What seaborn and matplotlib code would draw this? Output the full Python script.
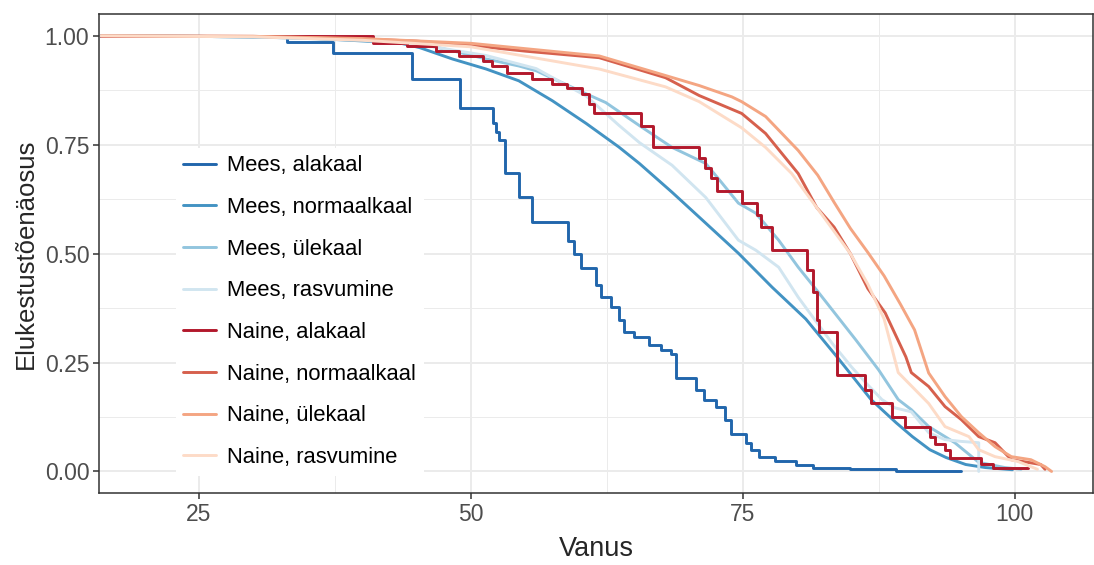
import matplotlib
matplotlib.use("Agg")
import matplotlib.pyplot as plt
import seaborn as sns
from matplotlib.ticker import MultipleLocator, FormatStrFormatter

# Survival curves (age, survival probability)
groups = ["Mees, alakaal", "Mees, normaalkaal", "Mees, ülekaal", "Mees, rasvumine",
          "Naine, alakaal", "Naine, normaalkaal", "Naine, ülekaal", "Naine, rasvumine"]
colors = ["#2166AC", "#4393C3", "#92C5DE", "#D1E5F0",
          "#B2182B", "#D6604D", "#F4A582", "#FDDBC7"]

# small groups -> visible steps
mees_alakaal_vanus = [16, 33.1, 37.3, 44.6, 49.0, 52.0, 52.3, 52.6, 53.1, 54.4, 55.6, 58.9,
                      59.5, 60.1, 61.5, 62.0, 62.9, 63.6, 64.1, 65.0, 66.4, 67.5, 68.4, 68.9,
                      70.7, 71.4, 72.5, 73.4, 73.9, 75.3, 75.8, 76.5, 78.0, 79.9, 81.5, 84.9,
                      89.1, 95.1]
mees_alakaal_s = [1.0, 0.985, 0.961, 0.902, 0.835, 0.80, 0.78, 0.76, 0.686, 0.629, 0.572, 0.53,
                  0.50, 0.467, 0.428, 0.40, 0.378, 0.348, 0.32, 0.309, 0.291, 0.28, 0.27, 0.215,
                  0.188, 0.165, 0.149, 0.119, 0.085, 0.065, 0.050, 0.034, 0.023, 0.014, 0.009, 0.005,
                  0.002, 0.002]

naine_alakaal_vanus = [16, 41.0, 44.1, 46.8, 48.9, 51.1, 51.9, 53.3, 55.6, 57.5, 58.8, 60.2,
                       60.9, 61.3, 65.6, 66.7, 71.0, 71.5, 72.1, 72.6, 74.9, 76.3, 76.7, 77.7,
                       80.9, 81.5, 81.8, 82.0, 83.7, 86.2, 86.8, 88.7, 89.9, 92.2, 92.7, 93.6,
                       94.1, 96.9, 98.0, 101.2]
naine_alakaal_s = [1.0, 0.984, 0.977, 0.966, 0.954, 0.943, 0.931, 0.915, 0.902, 0.890, 0.881, 0.867,
                   0.844, 0.822, 0.794, 0.744, 0.719, 0.696, 0.673, 0.645, 0.616, 0.588, 0.561, 0.508,
                   0.462, 0.412, 0.348, 0.320, 0.222, 0.188, 0.158, 0.124, 0.101, 0.080, 0.062, 0.050,
                   0.032, 0.016, 0.009, 0.009]

# large groups -> nearly smooth curves
mees_normaalkaal_vanus = [16, 25, 35, 43.4, 45.3, 48.3, 51.4, 54.4, 57.5, 60.6, 63.6, 65.5, 68.5,
                          71.6, 74.6, 77.7, 80.8, 83.8, 86.8, 89.1, 90.6, 92.2, 93.7, 95.5,
                          97.3, 99.8]
mees_normaalkaal_s = [1.0, 0.999, 0.995, 0.984, 0.973, 0.947, 0.924, 0.897, 0.851, 0.799, 0.745, 0.707,
                      0.641, 0.570, 0.501, 0.423, 0.350, 0.259, 0.165, 0.112, 0.080, 0.050,
                      0.032, 0.016, 0.009, 0.004]

mees_ulekaal_vanus = [16, 30, 40, 45.3, 48.3, 51.4, 54.4, 56.0, 60.6, 62.4, 65.5, 68.5, 71.6,
                      73.0, 74.6, 76.2, 78.3, 80.1, 82.0, 85.4, 87.5, 89.3, 90.5, 92.1, 93.6,
                      94.5, 96.7, 99.1, 100.6]
mees_ulekaal_s = [1.0, 0.998, 0.990, 0.982, 0.966, 0.947, 0.931, 0.920, 0.867, 0.847, 0.794, 0.744,
                  0.707, 0.665, 0.616, 0.593, 0.531, 0.469, 0.410, 0.302, 0.233, 0.165, 0.142, 0.103,
                  0.080, 0.066, 0.021, 0.009, 0.005]

mees_rasvumine_vanus = [16, 30, 40, 45.3, 51.4, 56.0, 60.6, 63.6, 65.5, 68.5, 71.6, 74.6, 76.2,
                        78.3, 80.1, 83.2, 85.0, 86.3, 87.8, 89.0, 90.5, 92.1, 93.6, 95.1, 96.7,
                        96.7]
mees_rasvumine_s = [1.0, 0.998, 0.992, 0.980, 0.955, 0.925, 0.862, 0.795, 0.755, 0.703, 0.629, 0.531,
                    0.508, 0.469, 0.400, 0.295, 0.240, 0.204, 0.165, 0.146, 0.137, 0.089, 0.073, 0.069,
                    0.066, 0.0]

naine_normaalkaal_vanus = [16, 30, 40, 45, 50, 55, 61.8, 67.9, 71.0, 74.9, 77.1, 80.1, 81.8, 83.4,
                           84.9, 86.5, 88.1, 90.0, 90.5, 92.1, 93.6, 95.1, 96.7, 98.2, 99.7, 101.2,
                           102.4, 102.8]
naine_normaalkaal_s = [1.0, 0.999, 0.993, 0.988, 0.978, 0.965, 0.950, 0.904, 0.863, 0.822, 0.776, 0.684,
                       0.606, 0.561, 0.50, 0.42, 0.364, 0.263, 0.227, 0.195, 0.149, 0.119, 0.080, 0.066,
                       0.027, 0.021, 0.016, 0.005]

naine_ulekaal_vanus = [16, 30, 40, 50, 61.8, 67.9, 71.0, 74.0, 74.9, 77.1, 80.1, 81.9, 83.4, 84.9,
                       86.5, 88.0, 89.5, 90.8, 92.1, 93.6, 95.1, 96.7, 98.2, 99.7, 101.5, 102.8,
                       103.4]
naine_ulekaal_s = [1.0, 0.999, 0.994, 0.983, 0.954, 0.909, 0.886, 0.860, 0.849, 0.815, 0.737, 0.680,
                   0.618, 0.558, 0.503, 0.449, 0.384, 0.325, 0.226, 0.172, 0.126, 0.089, 0.057, 0.034,
                   0.027, 0.011, 0.0]

naine_rasvumine_vanus = [16, 30, 40, 50, 61.8, 67.9, 71.0, 74.9, 77.1, 79.5, 81.8, 84.9, 86.5,
                         88.0, 89.3, 92.1, 93.6, 95.8, 96.7, 98.2, 100.3, 102.1]
naine_rasvumine_s = [1.0, 0.998, 0.990, 0.975, 0.924, 0.883, 0.849, 0.789, 0.744, 0.684, 0.606, 0.50,
                     0.43, 0.35, 0.227, 0.156, 0.103, 0.080, 0.050, 0.034, 0.023, 0.005]

series = [
    (mees_alakaal_vanus, mees_alakaal_s, True),
    (mees_normaalkaal_vanus, mees_normaalkaal_s, False),
    (mees_ulekaal_vanus, mees_ulekaal_s, False),
    (mees_rasvumine_vanus, mees_rasvumine_s, False),
    (naine_alakaal_vanus, naine_alakaal_s, True),
    (naine_normaalkaal_vanus, naine_normaalkaal_s, False),
    (naine_ulekaal_vanus, naine_ulekaal_s, False),
    (naine_rasvumine_vanus, naine_rasvumine_s, False),
]

sns.set_style("white")
plt.rcParams["font.family"] = ["Liberation Sans", "DejaVu Sans"]

fig = plt.figure(figsize=(10.94, 5.65), dpi=100)
ax = fig.add_axes([0.0905, 0.127, 0.9085, 0.848])

for (vanus, s, step), name, col in zip(series, groups, colors):
    sns.lineplot(x=vanus, y=s, ax=ax, color=col, lw=2.1, label=name,
                 estimator=None, sort=False,
                 drawstyle="steps-post" if step else "default")

ax.set_xlim(15.8, 107.2)
ax.set_ylim(-0.05, 1.05)
ax.xaxis.set_major_locator(MultipleLocator(25))
ax.xaxis.set_minor_locator(MultipleLocator(12.5))
ax.yaxis.set_major_locator(MultipleLocator(0.25))
ax.yaxis.set_minor_locator(MultipleLocator(0.125))
ax.yaxis.set_major_formatter(FormatStrFormatter("%.2f"))

ax.grid(which="major", color="#EBEBEB", lw=1.4)
ax.grid(which="minor", color="#EBEBEB", lw=0.7)
ax.set_axisbelow(True)
for sp in ax.spines.values():
    sp.set_color("#333333")
    sp.set_linewidth(1.1)

ax.tick_params(which="major", length=4, width=1.1, color="#333333",
               labelsize=16.5, labelcolor="#4D4D4D", pad=3, left=True, bottom=True)
ax.tick_params(which="minor", length=0)

ax.set_xlabel("Vanus", fontsize=19.5, labelpad=7)
ax.set_ylabel("Elukestustõenäosus", fontsize=18.5, labelpad=5)

leg = ax.legend(loc="upper left", bbox_to_anchor=(0.066, 0.744), frameon=True,
                fontsize=15.8, handlelength=1.5, handletextpad=0.5,
                labelspacing=0.94, borderpad=0.35, fancybox=False, framealpha=1)
leg.get_frame().set_edgecolor("none")
leg.get_frame().set_facecolor("white")
for t in leg.get_texts():
    t.set_color("black")

fig.savefig("out.png", dpi=100)
